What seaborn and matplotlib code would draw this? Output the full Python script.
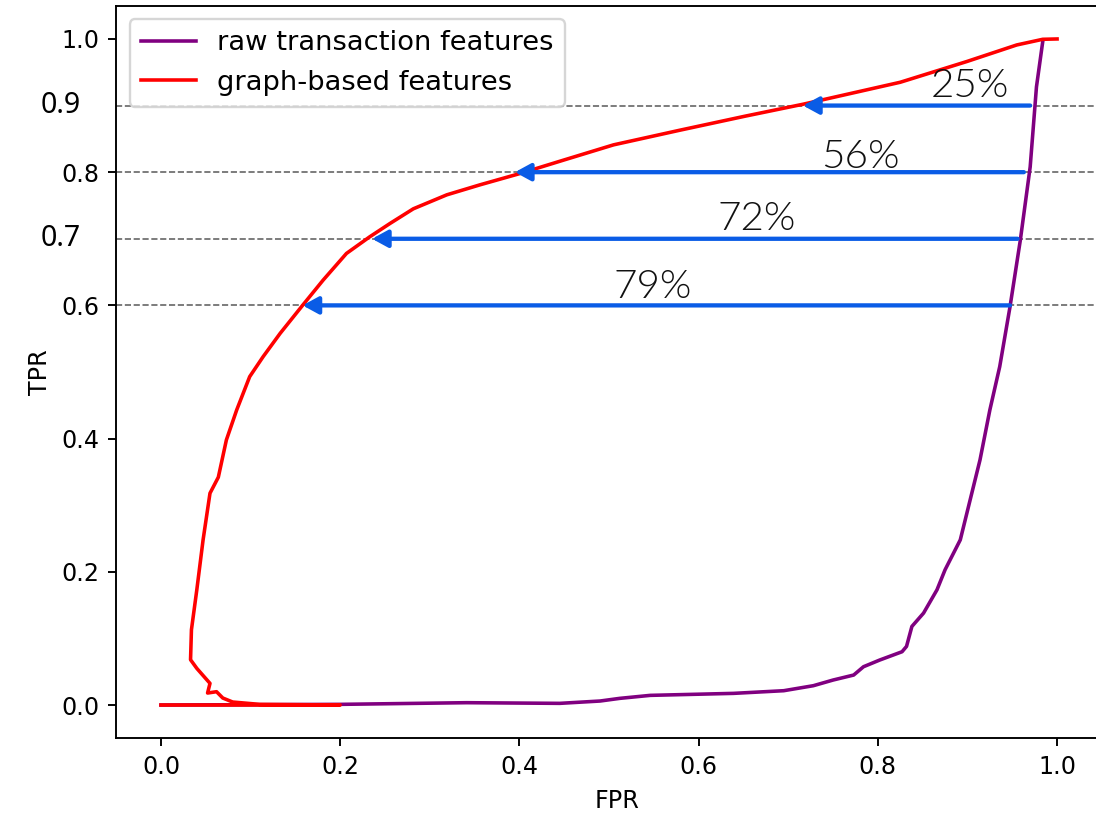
import matplotlib
matplotlib.use("Agg")
import matplotlib.pyplot as plt
import seaborn as sns
import pandas as pd

# ROC curves
graph_fpr = [0.0, 0.2, 0.11, 0.08, 0.069, 0.062, 0.052, 0.0547, 0.040, 0.033, 0.034,
             0.040, 0.047, 0.0547, 0.064, 0.073, 0.0845, 0.099, 0.114, 0.133, 0.158,
             0.181, 0.207, 0.233, 0.2556, 0.2816, 0.319, 0.356, 0.4007, 0.449, 0.505,
             0.579, 0.6516, 0.7165, 0.825, 0.899, 0.955, 0.984, 1.0]
graph_tpr = [0.0, 0.0, 0.001, 0.0045, 0.0105, 0.02, 0.018, 0.0325, 0.055, 0.068, 0.113,
             0.173, 0.248, 0.318, 0.342, 0.398, 0.443, 0.493, 0.523, 0.558, 0.6,
             0.638, 0.678, 0.703, 0.723, 0.745, 0.766, 0.781, 0.798, 0.818, 0.841,
             0.863, 0.884, 0.902, 0.935, 0.966, 0.991, 0.9995, 1.0]

raw_fpr = [0.0, 0.2, 0.341, 0.445, 0.49, 0.512, 0.546, 0.639, 0.695, 0.728, 0.750,
           0.773, 0.784, 0.802, 0.817, 0.827, 0.832, 0.838, 0.851, 0.866, 0.875,
           0.892, 0.903, 0.914, 0.925, 0.936, 0.9475, 0.959, 0.970, 0.977, 0.984]
raw_tpr = [0.0, 0.001, 0.0035, 0.0025, 0.006, 0.010, 0.0145, 0.0175, 0.0215, 0.029, 0.0375,
           0.045, 0.0575, 0.0675, 0.075, 0.080, 0.088, 0.118, 0.138, 0.173, 0.203,
           0.248, 0.308, 0.368, 0.443, 0.508, 0.598, 0.698, 0.808, 0.928, 0.996]

# arrows: tpr level, from (raw) fpr, to (graph) fpr, label
levels = [0.9, 0.8, 0.7, 0.6]
arrow_from = [0.970, 0.963, 0.956, 0.9475]
arrow_to = [0.7165, 0.395, 0.2355, 0.158]
pct_labels = ["25%", "56%", "72%", "79%"]
pct_x = [0.9025, 0.781, 0.665, 0.549]
pct_y = [0.929, 0.823, 0.730, 0.628]

raw = pd.DataFrame({"FPR": raw_fpr, "TPR": raw_tpr})
graph = pd.DataFrame({"FPR": graph_fpr, "TPR": graph_tpr})

fig = plt.figure(figsize=(6.4, 4.79), dpi=171.4)
# the original picture is cropped on the right, so the axes run past the edge
ax = fig.add_axes([0.1059, 0.1007, 0.9141, 0.8924])

sns.lineplot(data=raw, x="FPR", y="TPR", sort=False, estimator=None, color="purple",
             lw=1.5, label="raw transaction features", ax=ax)
sns.lineplot(data=graph, x="FPR", y="TPR", sort=False, estimator=None, color="red",
             lw=1.5, label="graph-based features", ax=ax)

for lv in levels:
    ax.axhline(lv, color="#666666", ls="--", lw=0.7, zorder=0)

for lv, x0, x1 in zip(levels, arrow_from, arrow_to):
    ax.annotate("", xy=(x1, lv), xytext=(x0, lv),
                arrowprops=dict(arrowstyle="-|>,head_length=0.55,head_width=0.3",
                                color="#0a5ce6", lw=1.8, mutation_scale=10,
                                shrinkA=0, shrinkB=0))

for t, x, y in zip(pct_labels, pct_x, pct_y):
    ax.text(x, y, t, ha="center", va="center", fontsize=17, family="Lato",
            fontweight=300, color="#111111")

ax.set_xlim(-0.05, 1.069)
ax.set_ylim(-0.05, 1.05)
ax.set_yticks([0.0, 0.2, 0.4, 0.6, 0.8, 1.0])
tr = ax.get_yaxis_transform()
for lv in [0.9, 0.7]:
    ax.text(-0.035, lv, f"{lv:.1f}", transform=tr, ha="right", va="center",
            fontsize=12, family="Noto Sans", color="black")

ax.set_xlabel("FPR", fontsize=10)
ax.set_ylabel("TPR", fontsize=10)
ax.legend(loc="upper left", fontsize=11.5)

fig.savefig("out.png")
